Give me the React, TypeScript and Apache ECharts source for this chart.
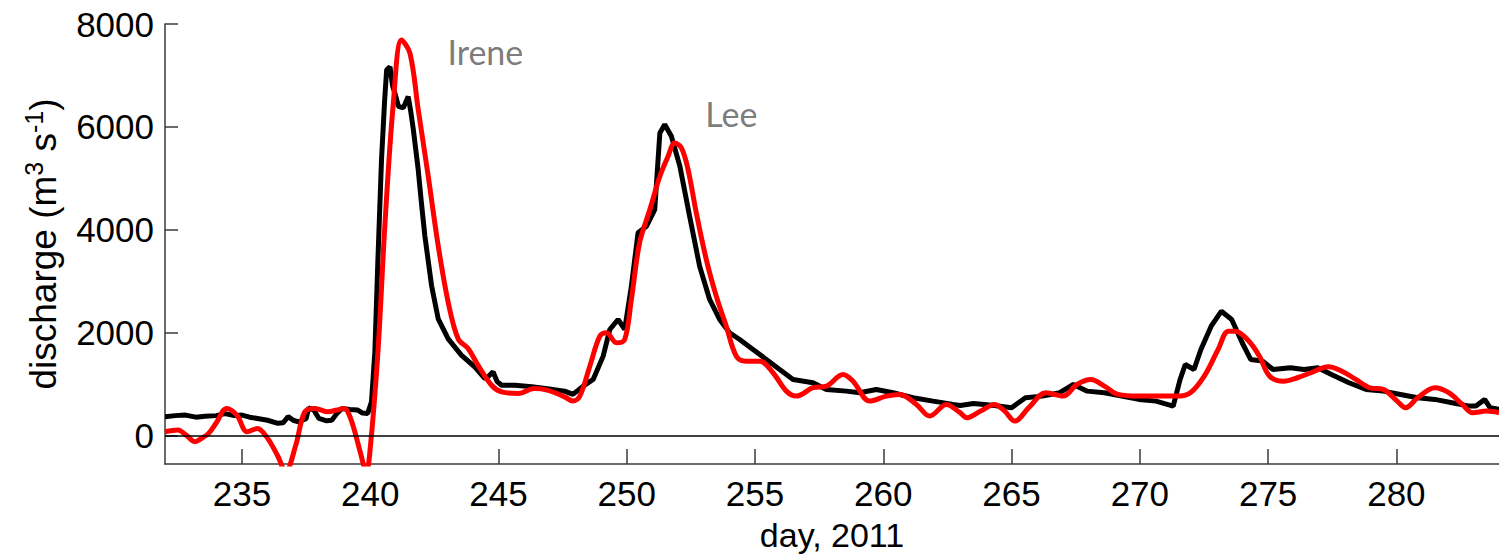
import React, { useEffect, useRef } from "react";
import * as echarts from "echarts";

// Observed discharge (black) — day of year 2011, m^3 s^-1
const observedDays = [
  232.0, 232.4, 232.8, 233.2, 233.56, 234.0, 234.34, 234.7, 235.0, 235.3, 235.6, 236.0, 236.4, 236.6, 236.8, 237.0,
  237.2, 237.5, 237.6, 237.8, 238.0, 238.3, 238.5, 238.7, 238.9, 239.2, 239.5, 239.7, 239.9, 240.05, 240.18, 240.3,
  240.44, 240.56, 240.64, 240.77, 240.87, 240.96, 241.1, 241.29, 241.48, 241.58, 241.68, 241.87, 242.0, 242.13,
  242.39, 242.65, 243.04, 243.56, 244.08, 244.47, 244.6, 244.79, 244.95, 245.12, 245.64, 246.3, 246.9, 247.58,
  247.9, 248.3, 248.69, 249.08, 249.34, 249.66, 249.92, 250.18, 250.44, 250.77, 251.09, 251.29, 251.48, 251.74,
  252.07, 252.45, 252.84, 253.23, 253.62, 254.01, 254.4, 254.92, 255.44, 255.96, 256.48, 257.26, 257.78, 258.56,
  259.08, 259.73, 260.38, 261.16, 261.94, 262.72, 263.0, 263.52, 264.33, 265.0, 265.54, 266.2, 266.88, 267.41,
  267.95, 268.62, 269.29, 269.96, 270.63, 271.3, 271.57, 271.77, 272.11, 272.38, 272.78, 273.18, 273.58, 273.99,
  274.32, 274.79, 275.19, 275.87, 276.4, 276.94, 277.47, 278.15, 278.82, 279.49, 280.16, 280.83, 281.5, 282.17,
  282.84, 283.1, 283.44, 283.65, 284.0,
];
const observedQ = [
  370, 390, 400, 360, 380, 390, 430, 390, 400, 360, 335, 300, 240, 250, 370, 300,
  270, 330, 540, 500, 335, 290, 300, 430, 530, 510, 500, 440, 430, 660, 1625, 3430,
  5370, 6500, 7110, 7170, 6800, 6660, 6400, 6370, 6590, 6300, 5950, 5170, 4500, 3880,
  2920, 2270, 1880, 1560, 1335, 1110, 1150, 1240, 1050, 980, 980, 950, 915, 865,
  802, 963, 1093, 1546, 2064, 2258, 2064, 2905, 3942, 4070, 4394, 5883, 6045, 5817,
  5235, 4264, 3293, 2647, 2258, 2000, 1870, 1676, 1482, 1287, 1093, 1029, 899, 866,
  835, 899, 835, 738, 672, 608, 588, 627, 588, 544, 738, 769, 835, 996,
  866, 835, 769, 705, 672, 575, 1093, 1384, 1287, 1676, 2128, 2419, 2258, 1806,
  1482, 1449, 1287, 1320, 1287, 1320, 1190, 1029, 899, 866, 802, 738, 705, 641,
  575, 575, 705, 544, 511,
];

// Modelled discharge (red)
const modelDays = [
  232.0, 232.5, 232.8, 233.17, 233.4, 233.7, 234.0, 234.4, 234.8, 235.2, 235.6, 236.0, 236.4, 236.7, 237.1, 237.45,
  237.84, 238.36, 238.7, 239.0, 239.2, 239.4, 239.6, 239.85, 240.0, 240.3, 240.57, 240.9, 241.22, 241.55, 241.87,
  242.26, 242.65, 243.04, 243.43, 243.82, 244.2, 244.73, 245.12, 245.77, 246.4, 246.9, 247.58, 247.9, 248.17,
  248.56, 248.95, 249.21, 249.6, 249.92, 250.18, 250.5, 250.9, 251.29, 251.61, 251.87, 252.13, 252.39, 252.71,
  253.1, 253.49, 253.88, 254.27, 254.66, 255.18, 255.7, 256.22, 256.61, 257.26, 257.78, 258.43, 258.82, 259.47,
  260.12, 260.64, 261.29, 261.81, 262.46, 262.99, 263.26, 263.79, 264.33, 264.73, 265.13, 265.67, 266.34, 267.01,
  267.55, 268.09, 268.62, 269.16, 269.96, 270.77, 271.44, 271.97, 272.51, 273.05, 273.45, 273.72, 274.26, 274.66,
  275.06, 275.6, 276.14, 276.67, 277.35, 277.88, 278.42, 278.96, 279.49, 280.03, 280.36, 280.83, 281.5, 282.04,
  282.57, 282.97, 283.51, 284.0,
];
const modelQ = [
  77, 110, 20, -116, -60, 45, 250, 530, 400, 77, 140, -52, -400, -700, -180, 465,
  530, 465, 500, 530, 380, 77, -300, -700, -245, 1625, 4080, 6460, 7690, 7430, 6340,
  5045, 3690, 2590, 1880, 1690, 1370, 980, 850, 820, 915, 885, 755, 672, 769,
  1351, 1934, 2000, 1806, 1870, 2647, 3748, 4394, 5041, 5429, 5689, 5592, 5171, 4330,
  3423, 2711, 2128, 1546, 1449, 1449, 1223, 866, 769, 932, 963, 1190, 1060, 672,
  769, 802, 608, 381, 608, 447, 349, 478, 608, 478, 284, 544, 835, 769,
  996, 1093, 963, 802, 769, 769, 769, 835, 1157, 1676, 2031, 2031, 1831, 1546,
  1157, 1060, 1126, 1223, 1340, 1254, 1093, 932, 899, 672, 544, 738, 932, 835,
  608, 447, 478, 447,
];

const xTicks = [235, 240, 245, 250, 255, 260, 265, 270, 275, 280];
const yTicks = [0, 2000, 4000, 6000, 8000];

const stormNames = ["Irene", "Lee"];
const stormDays = [242.99, 253.04];
const stormQ = [7460, 6258];

const zip = (a: number[], b: number[]) => a.map((d, i) => [d, b[i]]);

export default function App() {
  const ref = useRef<HTMLDivElement>(null);
  useEffect(() => {
    if (!ref.current) return;
    const chart = echarts.init(ref.current, null, { renderer: "svg" });
    const axisColor = "#3a3a3a";
    const labelFont = "Liberation Sans";
    chart.setOption({
      animation: false,
      backgroundColor: "#ffffff",
      grid: { left: 165, right: 0, top: 24, bottom: 91, containLabel: false, outerBoundsMode: "none" },
      xAxis: {
        type: "value",
        min: 232,
        max: 284,
        name: "day, 2011",
        nameLocation: "middle",
        nameGap: 54,
        nameTextStyle: { fontFamily: labelFont, fontSize: 34, color: "#000" },
        axisLine: { show: true, onZero: false, lineStyle: { color: axisColor, width: 1.5 } },
        axisTick: { show: true, inside: true, length: 15, customValues: xTicks, lineStyle: { color: axisColor, width: 1.5 } },
        axisLabel: {
          customValues: xTicks,
          formatter: (v: number) => String(v),
          fontFamily: labelFont,
          fontSize: 35,
          color: "#000",
          margin: 12,
        },
        splitLine: { show: false },
      },
      yAxis: {
        type: "value",
        min: -550,
        max: 8000,
        name: "{n|discharge (m}{s|3}{n| s}{s|-1}{n|)}",
        nameLocation: "middle",
        nameGap: 100,
        nameTextStyle: {
          rich: {
            n: { fontFamily: labelFont, fontSize: 37, color: "#000", lineHeight: 44 },
            s: { fontFamily: labelFont, fontSize: 25, color: "#000", lineHeight: 44, verticalAlign: "top" },
          },
        },
        axisLine: { show: true, onZero: false, lineStyle: { color: axisColor, width: 1.5 } },
        axisTick: { show: true, inside: true, length: 13, customValues: yTicks, lineStyle: { color: axisColor, width: 1.5 } },
        axisLabel: {
          customValues: yTicks,
          formatter: (v: number) => String(v),
          fontFamily: labelFont,
          fontSize: 35,
          color: "#000",
          margin: 11,
        },
        splitLine: { show: false },
      },
      series: [
        {
          type: "line",
          data: zip(observedDays, observedQ),
          showSymbol: false,
          lineStyle: { color: "#000000", width: 5 },
          itemStyle: { color: "#000000" },
          z: 2,
          markLine: {
            silent: true,
            symbol: ["none", "none"],
            label: { show: false },
            lineStyle: { color: "#000", type: "solid", width: 1.5 },
            data: [{ yAxis: 0 }],
          },
        },
        {
          type: "line",
          data: zip(modelDays, modelQ),
          showSymbol: false,
          smooth: 0.35,
          lineStyle: { color: "#ff0000", width: 5 },
          itemStyle: { color: "#ff0000" },
          z: 3,
        },
        {
          type: "scatter",
          data: stormNames.map((n, i) => ({ name: n, value: [stormDays[i], stormQ[i]] })),
          symbolSize: 1,
          itemStyle: { color: "transparent" },
          silent: true,
          label: {
            show: true,
            position: "right",
            distance: 0,
            formatter: (p: any) => p.name,
            fontFamily: "Lato",
            fontSize: 34,
            color: "#595959",
          },
          z: 4,
        },
      ],
    });
    return () => chart.dispose();
  }, []);
  return <div ref={ref} style={{ position: "fixed", left: 0, top: 0, width: 1499, height: 555 }} />;
}
